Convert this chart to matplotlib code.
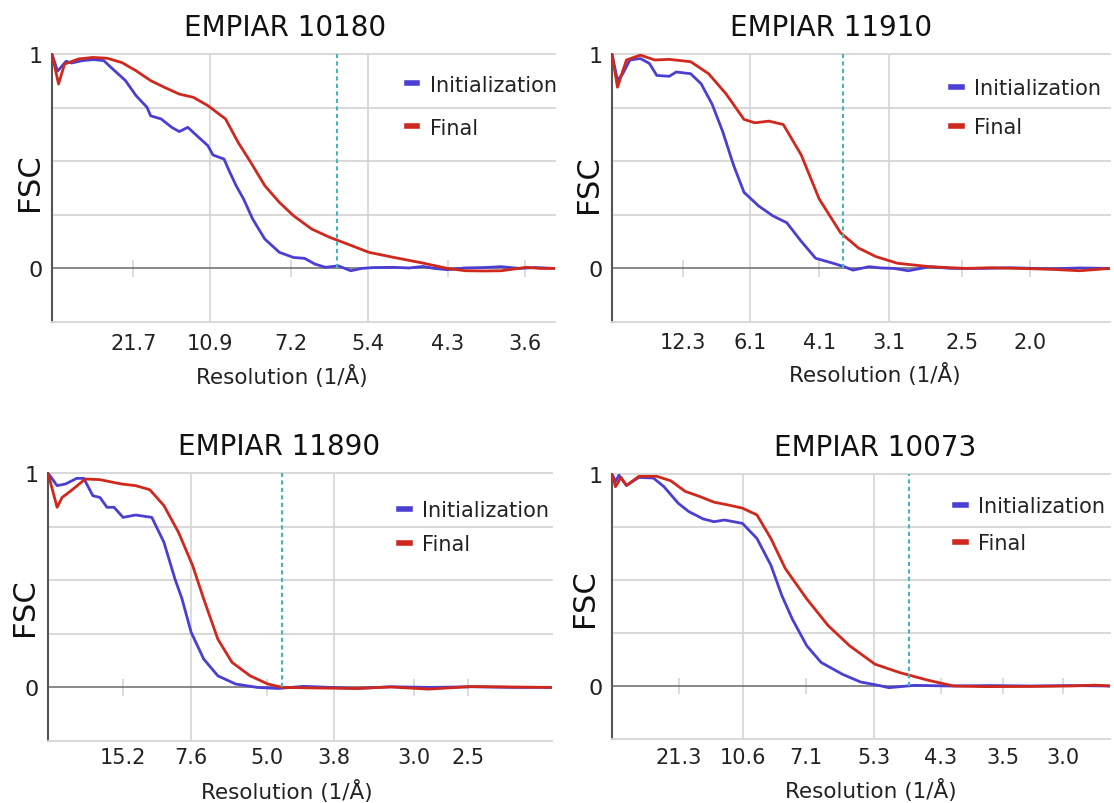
import matplotlib.pyplot as plt

# x values are percent of the plotted frequency range, y is FSC
titles = ["EMPIAR 10180", "EMPIAR 11910", "EMPIAR 11890", "EMPIAR 10073"]

tick_pos_10180 = [16.2, 31.4, 47.5, 62.9, 78.7, 94.0]
tick_lab_10180 = ["21.7", "10.9", "7.2", "5.4", "4.3", "3.6"]
tick_pos_11910 = [14.3, 27.7, 41.6, 55.6, 70.3, 83.9]
tick_lab_11910 = ["12.3", "6.1", "4.1", "3.1", "2.5", "2.0"]
tick_pos_11890 = [14.9, 28.3, 43.4, 56.8, 72.7, 83.4]
tick_lab_11890 = ["15.2", "7.6", "5.0", "3.8", "3.0", "2.5"]
tick_pos_10073 = [13.4, 26.3, 39.0, 52.6, 66.0, 78.6, 90.5]
tick_lab_10073 = ["21.3", "10.6", "7.1", "5.3", "4.3", "3.5", "3.0"]

cutoffs = [56.6, 46.3, 46.4, 59.7]

x_init_10180 = [0, 1.1, 2.8, 3.9, 6.0, 8.2, 10.3, 11.7, 14.6, 16.7, 18.9, 19.6, 21.7, 23.8,
                25.3, 27.0, 28.8, 31.0, 32.0, 34.2, 35.2, 36.6, 38.1, 39.9, 42.3, 45.2, 48.0,
                50.2, 52.3, 54.4, 56.9, 59.4, 61.6, 64, 68, 71, 73.7, 76, 78.6, 82, 86, 89.3,
                93, 96, 100]
y_init_10180 = [1.0, 0.92, 0.966, 0.958, 0.969, 0.974, 0.969, 0.938, 0.876, 0.806, 0.751,
                0.712, 0.697, 0.658, 0.638, 0.658, 0.619, 0.572, 0.529, 0.510, 0.456, 0.386,
                0.323, 0.230, 0.137, 0.075, 0.051, 0.047, 0.020, 0.005, 0.012, -0.011, 0.0,
                0.004, 0.005, 0.002, 0.009, 0.0, -0.006, 0.002, 0.004, 0.008, 0.0, 0.004, 0.0]
x_final_10180 = [0, 1.3, 2.5, 5.3, 8.2, 11.0, 13.9, 16.7, 19.6, 22.4, 25.3, 28.1, 31.0, 34.5,
                 37.0, 39.5, 42.3, 45.2, 48.0, 51.6, 55.2, 58.7, 63.0, 68.0, 73.7, 78.6, 82.2,
                 86, 89.3, 94.3, 97, 100]
y_final_10180 = [1.0, 0.86, 0.953, 0.977, 0.984, 0.98, 0.96, 0.922, 0.876, 0.844, 0.813, 0.798,
                 0.759, 0.697, 0.588, 0.495, 0.386, 0.308, 0.246, 0.184, 0.145, 0.114, 0.075,
                 0.051, 0.025, 0.0, -0.011, -0.012, -0.011, 0.005, 0.0, 0.0]

x_init_11910 = [0, 1.1, 2.15, 3.6, 5.7, 7.5, 9.0, 11.5, 12.9, 15.8, 17.9, 20.1, 22.2, 24.4,
                26.5, 29.4, 32.3, 35.1, 38.0, 40.9, 44.4, 46.6, 48.4, 51.6, 54, 56.6, 59.5,
                63.8, 68, 74.6, 80, 88, 94, 100]
y_init_11910 = [1.0, 0.877, 0.908, 0.972, 0.979, 0.956, 0.9, 0.896, 0.916, 0.908, 0.861, 0.766,
                0.64, 0.482, 0.355, 0.292, 0.245, 0.213, 0.126, 0.047, 0.024, 0.008, -0.008,
                0.008, 0.002, 0.0, -0.011, 0.008, 0.0, 0.0, 0.003, -0.002, 0.002, 0.0]
x_final_11910 = [0, 1.1, 2.9, 5.7, 8.6, 11.5, 15.8, 19.4, 22.9, 26.5, 28.7, 31.5, 34.4, 38.0,
                 41.6, 45.9, 49.5, 53.0, 57.3, 63.8, 71.0, 76, 81.7, 88, 93.9, 100]
y_final_11910 = [1.0, 0.845, 0.972, 0.995, 0.972, 0.975, 0.964, 0.908, 0.814, 0.695, 0.679,
                 0.687, 0.671, 0.529, 0.324, 0.166, 0.095, 0.055, 0.024, 0.008, 0.0, 0.003,
                 0.0, -0.004, -0.011, 0.0]

x_init_11890 = [0, 1.8, 3.5, 5.7, 7.1, 8.9, 10.3, 11.7, 13.1, 14.9, 17.4, 20.6, 23.0, 25.2,
                26.6, 28.4, 30.9, 33.7, 37.2, 41.5, 45.7, 50.7, 56, 61.3, 68, 76, 84, 92, 100]
y_init_11890 = [1, 0.941, 0.949, 0.975, 0.975, 0.894, 0.886, 0.84, 0.84, 0.793, 0.804, 0.793,
                0.677, 0.505, 0.412, 0.257, 0.132, 0.054, 0.016, 0, -0.005, 0.005, 0.0,
                -0.005, 0.003, 0.0, 0.003, 0.0, 0]
x_final_11890 = [0, 1.8, 2.8, 4.6, 7.4, 10.3, 14.5, 17.4, 20.2, 23.0, 25.9, 28.7, 30.9, 33.7,
                 36.5, 40.1, 43.6, 46.5, 54, 61.3, 68, 75.5, 84, 92, 100]
y_final_11890 = [1, 0.84, 0.886, 0.918, 0.972, 0.969, 0.949, 0.941, 0.922, 0.848, 0.723, 0.568,
                 0.412, 0.225, 0.117, 0.054, 0.016, 0, -0.003, -0.005, 0.002, -0.008, 0.004,
                 0.002, 0]

x_init_10073 = [0, 0.7, 1.4, 2.9, 5.4, 8.3, 10.4, 13.3, 15.4, 18.3, 20.5, 22.6, 26.2, 29.1,
                31.9, 34.1, 36.2, 39.1, 42.0, 46.3, 49.9, 53.5, 55.6, 60.7, 67.8, 76, 84, 92, 100]
y_init_10073 = [1, 0.965, 0.994, 0.946, 0.984, 0.981, 0.941, 0.862, 0.823, 0.788, 0.775, 0.783,
                0.767, 0.696, 0.57, 0.427, 0.316, 0.19, 0.111, 0.055, 0.019, 0.003, -0.008,
                0.003, 0, 0.002, 0.0, 0.002, 0]
x_final_10073 = [0, 0.7, 1.8, 2.9, 5.4, 9.0, 11.8, 14.7, 17.6, 20.5, 23.3, 26.2, 29.1, 31.9,
                 34.8, 39.1, 43.4, 47.7, 52.8, 57.8, 63.5, 68.6, 75.0, 84, 92, 97, 100]
y_final_10073 = [1, 0.94, 0.984, 0.946, 0.989, 0.989, 0.968, 0.918, 0.894, 0.867, 0.854, 0.839,
                 0.807, 0.696, 0.554, 0.411, 0.285, 0.19, 0.103, 0.063, 0.027, 0, -0.003,
                 -0.002, 0.0, 0.004, 0]

panels = [
    (tick_pos_10180, tick_lab_10180, x_init_10180, y_init_10180, x_final_10180, y_final_10180),
    (tick_pos_11910, tick_lab_11910, x_init_11910, y_init_11910, x_final_11910, y_final_11910),
    (tick_pos_11890, tick_lab_11890, x_init_11890, y_init_11890, x_final_11890, y_final_11890),
    (tick_pos_10073, tick_lab_10073, x_init_10073, y_init_10073, x_final_10073, y_final_10073),
]

# layout, in figure pixels: left, right, top, bottom
rects = [(52, 555, 55, 323), (612, 1110, 55, 323), (48, 552, 474, 742), (612, 1110, 475, 740)]
title_x = [0.463, 0.44, 0.458, 0.528]
xlab_xy = [(0.457, -0.155), (0.528, -0.15), (0.473, -0.14), (0.519, -0.148)]
ylab_xy = [(-0.044, 0.525), (-0.048, 0.518), (-0.046, 0.505), (-0.056, 0.534)]
tick_pad = [8, 7, 4.5, 5.5]
leg_xy = [(70.5, 0.757), (68.1, 0.75), (69.7, 0.747), (68.9, 0.76)]
leg_space = [1.1, 0.9, 0.67, 0.82]

BLUE = "#4a3fd2"
RED = "#d0281c"
GRID = "#d6d6d6"

W, H = 1114, 804
fig = plt.figure(figsize=(W / 100, H / 100), dpi=100)

for i, (tp, tl, xi, yi, xf, yf) in enumerate(panels):
    l, r, t, b = rects[i]
    ax = fig.add_axes([l / W, 1 - b / H, (r - l) / W, (b - t) / H])
    ax.set_xlim(0, 100)
    ax.set_ylim(-0.25, 1.0)

    for yv in [0.25, 0.5, 0.75, 1.0]:
        ax.axhline(yv, color=GRID, lw=1.3, zorder=0, clip_on=False)
    for k, xv in enumerate(tp):
        if k in (1, 3):
            ax.axvline(xv, color=GRID, lw=1.2, zorder=0)
        else:
            ax.vlines(xv, -0.04, 0.04, color=GRID, lw=1.2, zorder=0)
    ax.axhline(0, color="#6a6a6a", lw=1.1, zorder=1)

    ax.plot(xi, yi, color=BLUE, lw=2.0, label="Initialization", zorder=3)
    ax.plot(xf, yf, color=RED, lw=2.0, label="Final", zorder=3)
    ax.vlines(cutoffs[i], 0, 1, color="#46b4bc", lw=1.5, linestyles=(0, (2, 1.6)), zorder=4)

    for s in ["top", "right"]:
        ax.spines[s].set_visible(False)
    ax.spines["left"].set_color("#555555")
    ax.spines["left"].set_linewidth(1.5)
    ax.spines["bottom"].set_color(GRID)
    ax.spines["bottom"].set_linewidth(1.3)

    ax.set_yticks([0, 1])
    ax.set_yticklabels(["0", "1"])
    ax.set_xticks(tp)
    ax.set_xticklabels(tl)
    ax.tick_params(axis="y", length=0, pad=7, labelsize=16, labelcolor="#222222")
    ax.tick_params(axis="x", length=0, pad=tick_pad[i], labelsize=15, labelcolor="#222222")

    ax.set_title(titles[i], fontsize=20, x=title_x[i], pad=14, color="#111111")
    ax.set_xlabel("Resolution (1/Å)", fontsize=15.5, color="#222222")
    ax.xaxis.set_label_coords(*xlab_xy[i])
    ax.set_ylabel("FSC", fontsize=22, color="#111111")
    ax.yaxis.label.set(va="center", ha="center")
    ax.yaxis.set_label_coords(*ylab_xy[i])

    leg = ax.legend(loc="center left", bbox_to_anchor=leg_xy[i], bbox_transform=ax.transData,
                    frameon=False, fontsize=15, handlelength=0.5, handletextpad=0.6,
                    borderpad=0, borderaxespad=0, labelspacing=leg_space[i])
    for line in leg.get_lines():
        line.set_linewidth(4)
    for txt in leg.get_texts():
        txt.set_color("#222222")

fig.savefig("out.png", dpi=100)
